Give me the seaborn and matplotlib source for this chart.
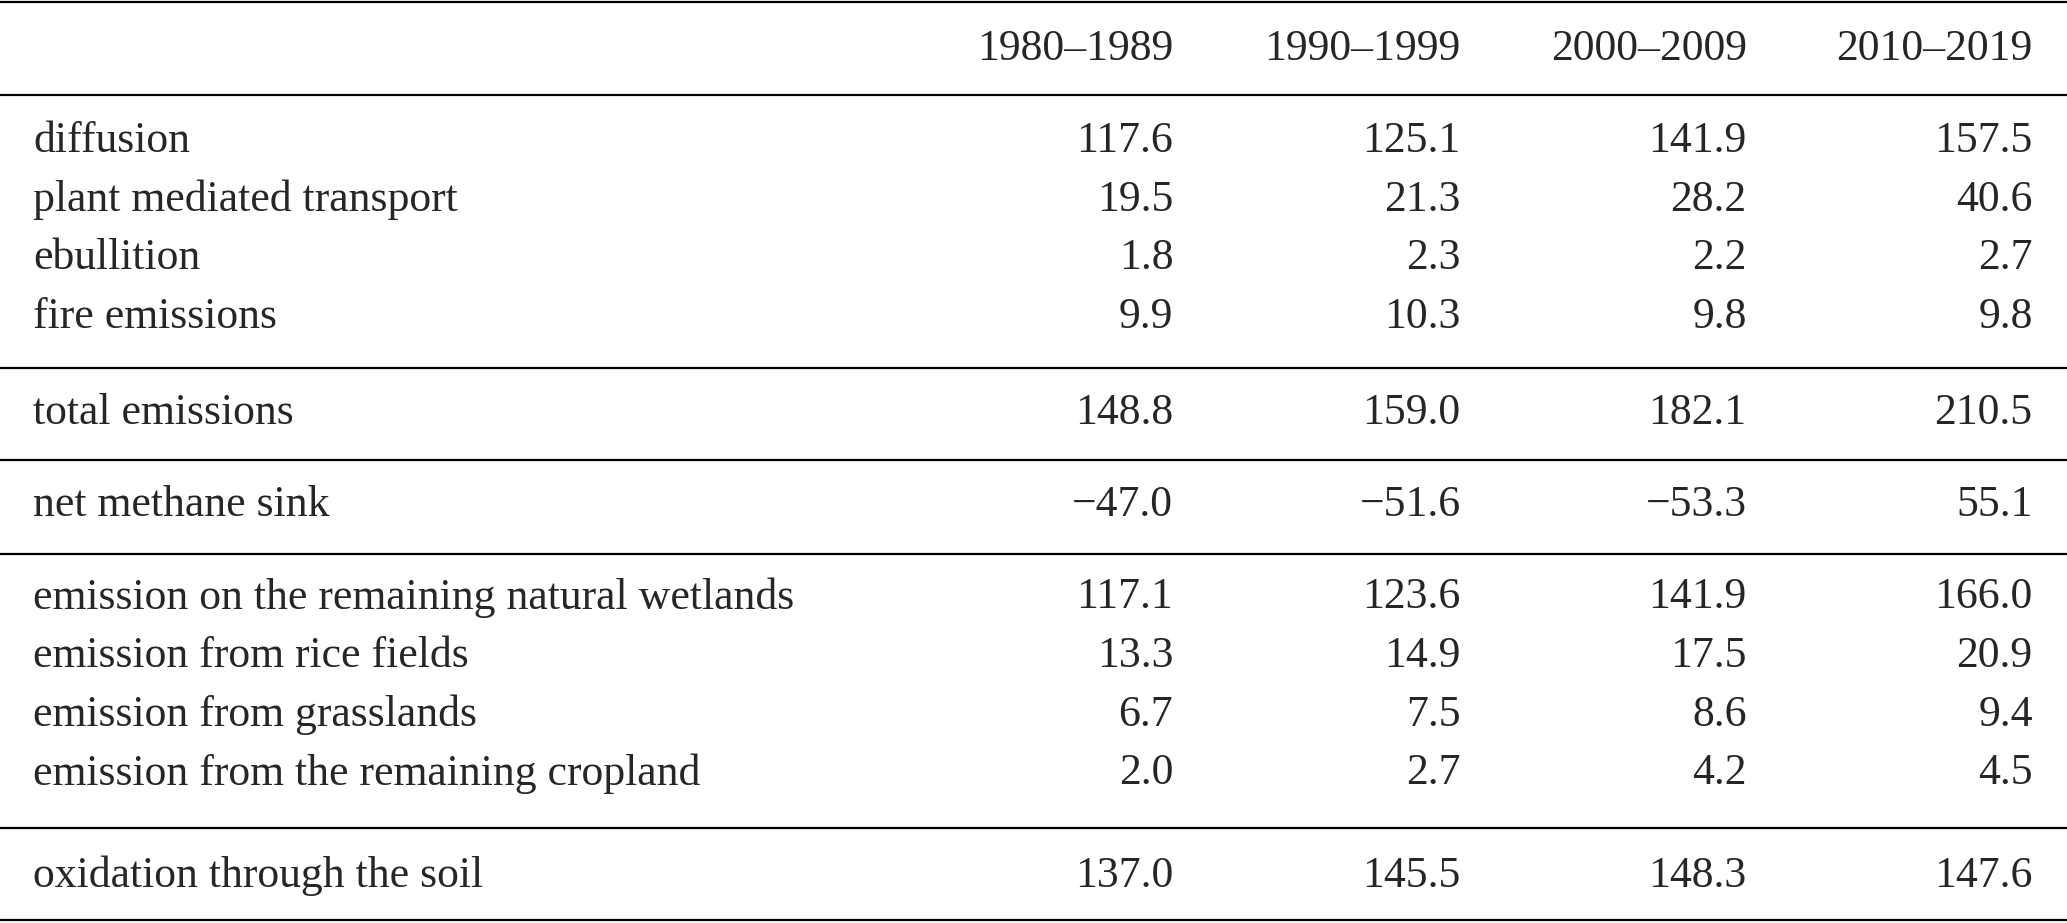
import matplotlib
matplotlib.use("Agg")
import matplotlib.pyplot as plt
import seaborn as sns

decades = ["1980–1989", "1990–1999", "2000–2009", "2010–2019"]

flux_labels = ["diffusion", "plant mediated transport", "ebullition", "fire emissions"]
flux_values = [
    ["117.6", "125.1", "141.9", "157.5"],
    ["19.5", "21.3", "28.2", "40.6"],
    ["1.8", "2.3", "2.2", "2.7"],
    ["9.9", "10.3", "9.8", "9.8"],
]

total_labels = ["total emissions"]
total_values = [["148.8", "159.0", "182.1", "210.5"]]

sink_labels = ["net methane sink"]
sink_values = [["−47.0", "−51.6", "−53.3", "55.1"]]

landuse_labels = [
    "emission on the remaining natural wetlands",
    "emission from rice fields",
    "emission from grasslands",
    "emission from the remaining cropland",
]
landuse_values = [
    ["117.1", "123.6", "141.9", "166.0"],
    ["13.3", "14.9", "17.5", "20.9"],
    ["6.7", "7.5", "8.6", "9.4"],
    ["2.0", "2.7", "4.2", "4.5"],
]

oxid_labels = ["oxidation through the soil"]
oxid_values = [["137.0", "145.5", "148.3", "147.6"]]

sns.set_theme(style="white")
plt.rcParams['font.family'] = ['Liberation Serif', 'DejaVu Serif']

fig = plt.figure(figsize=(20.67, 9.23), dpi=100)
ax = fig.add_axes([0, 0, 1, 1])
# layout measured on a 1568 x 700 grid
ax.set_xlim(0, 1568)
ax.set_ylim(700, 0)
ax.axis('off')

col_x = [890, 1108, 1325, 1542]
fs = 31.5

def hline(y):
    ax.plot([0, 1568], [y, y], color='black', lw=1.6)

hline(1.5)
for x, d in zip(col_x, decades):
    ax.text(x, 37, d, ha='right', va='center', fontsize=fs)
hline(72)

groups = [
    (flux_labels, flux_values, 107, 279),
    (total_labels, total_values, 313, 349),
    (sink_labels, sink_values, 383, 420),
    (landuse_labels, landuse_values, 453, 628),
    (oxid_labels, oxid_values, 664, 698),
]
for labels, values, y0, yline in groups:
    for i, (lab, row) in enumerate(zip(labels, values)):
        y = y0 + i * 44.5
        ax.text(25, y, lab, ha='left', va='center', fontsize=fs)
        for x, v in zip(col_x, row):
            ax.text(x, y, v, ha='right', va='center', fontsize=fs)
    hline(yline)

fig.savefig("out.png", dpi=100, facecolor='white')
